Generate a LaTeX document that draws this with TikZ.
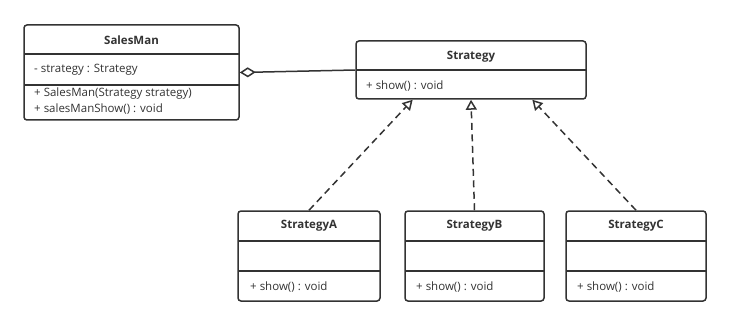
\documentclass[tikz,border=0pt]{standalone}
\usepackage{fontspec}
\setmainfont{Open Sans}
\usetikzlibrary{arrows.meta,calc}
\definecolor{ink}{HTML}{333333}
\tikzset{
  cls/.style={draw=ink, line width=1.5pt, rounded corners=3pt, fill=white, inner sep=0pt},
  sep/.style={draw=ink, line width=1.5pt},
  ttl/.style={font=\fontsize{11.5}{13}\selectfont\bfseries, text=ink, inner sep=0pt},
  mem/.style={font=\fontsize{11.5}{13}\selectfont, text=ink, anchor=west, inner sep=0pt},
  agg/.style={draw=ink, line width=1.5pt, {Diamond[open,length=16pt,width=10pt]}-},
  real/.style={draw=ink, line width=1.5pt, dash pattern=on 7pt off 4.5pt, -{Triangle[open,length=10pt,width=11pt]}}
}
\begin{document}
\begin{tikzpicture}[x=1pt,y=-1pt]
\useasboundingbox (0,0) rectangle (731,326);
% SalesMan
\node[cls, minimum width=215pt, minimum height=95pt] (sm) at (131.5,72.5) {};
\draw[sep] (24,54) -- (239,54);
\draw[sep] (24,85) -- (239,85);
\node[ttl] (smt) at (131.5,40) {SalesMan};
\node[mem] (sma) at (34,70) {- strategy : Strategy};
\node[mem] (smm1) at (34,94) {+ SalesMan(Strategy strategy)};
\node[mem] (smm2) at (34,109) {+ salesManShow() : void};
% Strategy
\node[cls, minimum width=230pt, minimum height=58pt] (st) at (471,70) {};
\draw[sep] (356,70) -- (586,70);
\node[ttl] (stt) at (471,56.5) {Strategy};
\node[mem] (stm) at (366,86) {+ show() : void};
% StrategyA
\node[cls, minimum width=142pt, minimum height=90pt] (a) at (309,256) {};
\draw[sep] (238,241) -- (380,241);
\draw[sep] (238,271) -- (380,271);
\node[ttl] (at) at (309,226) {StrategyA};
\node[mem] (am) at (250,287) {+ show() : void};
% StrategyB
\node[cls, minimum width=139pt, minimum height=90pt] (b) at (474.5,256) {};
\draw[sep] (405,241) -- (544,241);
\draw[sep] (405,271) -- (544,271);
\node[ttl] (bt) at (474.5,226) {StrategyB};
\node[mem] (bm) at (416,287) {+ show() : void};
% StrategyC
\node[cls, minimum width=140pt, minimum height=90pt] (c) at (636,256) {};
\draw[sep] (566,241) -- (706,241);
\draw[sep] (566,271) -- (706,271);
\node[ttl] (ct) at (636,226) {StrategyC};
\node[mem] (cm) at (577,287) {+ show() : void};
% connectors
\draw[agg] (sm.east) -- (st.west);
\draw[real] (a.north) -- ($(st.south west)!0.248!(st.south east)$);
\draw[real] (b.north) -- (st.south);
\draw[real] (c.north) -- ($(st.south west)!0.765!(st.south east)$);
\end{tikzpicture}
\end{document}
